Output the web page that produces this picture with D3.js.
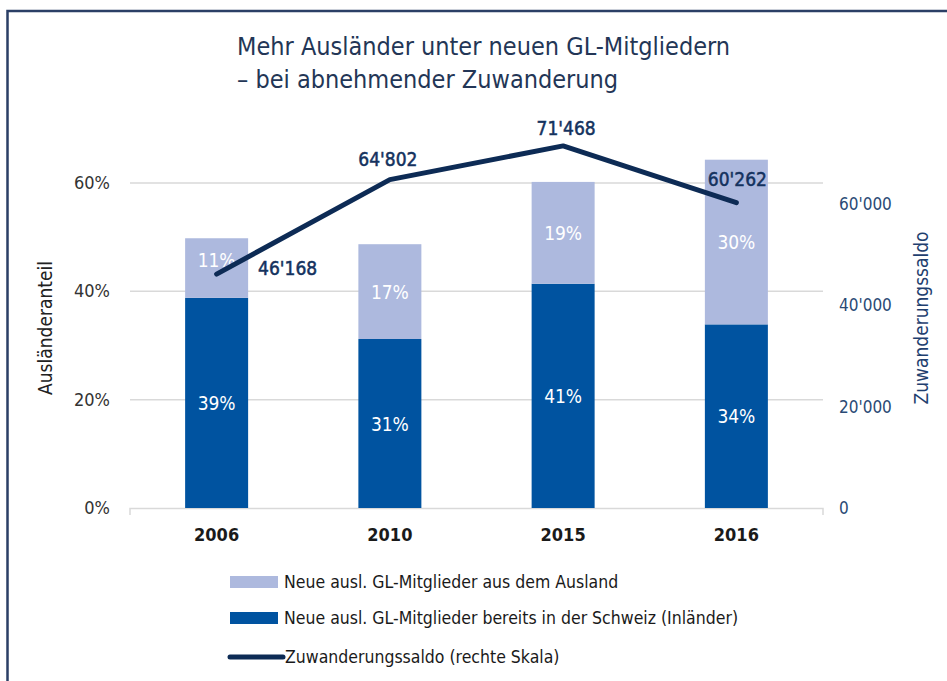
<!DOCTYPE html>
<html>
<head>
<meta charset="utf-8">
<script src="https://cdn.jsdelivr.net/npm/d3@7"></script>
<style>
  body { margin: 0; background: #fff; }
  text { font-family: "DejaVu Sans Condensed", "Liberation Sans Narrow", sans-serif; }
</style>
</head>
<body>
<div id="chart"></div>
<script>
const years = ["2006", "2010", "2015", "2016"];
const inlaender = [38.8, 31.2, 41.4, 33.9];
const ausland = [11.0, 17.5, 18.8, 30.4];
const inlaenderLabels = ["39%", "31%", "41%", "34%"];
const auslandLabels = ["11%", "17%", "19%", "30%"];
const saldo = [46168, 64802, 71468, 60262];
const saldoLabels = ["46'168", "64'802", "71'468", "60'262"];
const leftTicks = [0, 20, 40, 60];
const rightTicks = [0, 20000, 40000, 60000];
const legendItems = [
  "Neue ausl. GL-Mitglieder aus dem Ausland",
  "Neue ausl. GL-Mitglieder bereits in der Schweiz (Inländer)",
  "Zuwanderungssaldo (rechte Skala)"
];

function main(container) {
  const width = 947;
  const height = 681;
  const lightBlue = "#adb9de";
  const darkBlue = "#0053a0";
  const navy = "#0d2b55";

  const svg = d3.select(container).append("svg")
    .attr("width", width)
    .attr("height", height);

  // frame
  svg.append("rect")
    .attr("x", 7.5).attr("y", 11)
    .attr("width", width + 20).attr("height", height + 20)
    .attr("fill", "none")
    .attr("stroke", "#2b3f66")
    .attr("stroke-width", 2.5);

  // title
  const title = svg.append("text")
    .attr("x", 237).attr("y", 55)
    .attr("font-size", 25)
    .attr("fill", "#233656");
  title.append("tspan").attr("x", 237).text("Mehr Ausländer unter neuen GL-Mitgliedern");
  title.append("tspan").attr("x", 237).attr("dy", 33).text("– bei abnehmender Zuwanderung");

  const x = d3.scaleBand().domain(years).range([130, 823]);
  const y = d3.scaleLinear().domain([0, 60]).range([508, 183]);
  const y2 = d3.scaleLinear().domain([0, 60000]).range([508, 204]);
  const barW = 63;

  // gridlines
  svg.append("g")
    .selectAll("line")
    .data(leftTicks.filter(d => d > 0))
    .join("line")
    .attr("x1", 130).attr("x2", 823)
    .attr("y1", d => y(d)).attr("y2", d => y(d))
    .attr("stroke", "#d9d9d9")
    .attr("stroke-width", 1.5);

  // x axis line with end ticks
  svg.append("path")
    .attr("d", `M130,515V508.5H823V515`)
    .attr("fill", "none")
    .attr("stroke", "#d9d9d9")
    .attr("stroke-width", 1.5);

  // left ticks
  svg.append("g")
    .selectAll("text")
    .data(leftTicks)
    .join("text")
    .attr("x", 110).attr("y", d => y(d) + 6)
    .attr("text-anchor", "end")
    .attr("font-size", 18)
    .attr("fill", "#333")
    .text(d => d + "%");

  // right ticks
  svg.append("g")
    .selectAll("text")
    .data(rightTicks)
    .join("text")
    .attr("x", 839).attr("y", d => y2(d) + 6)
    .attr("font-size", 17)
    .attr("fill", "#2a4a75")
    .text(d => d3.format(",")(d).replace(/,/g, "'"));

  // axis titles
  svg.append("text")
    .attr("transform", "translate(52,328) rotate(-90)")
    .attr("text-anchor", "middle")
    .attr("font-size", 19)
    .attr("fill", "#222")
    .text("Ausländeranteil");
  svg.append("text")
    .attr("transform", "translate(928,318) rotate(-90)")
    .attr("text-anchor", "middle")
    .attr("font-size", 19)
    .attr("fill", "#1f3f6f")
    .text("Zuwanderungssaldo");

  // bars
  const bars = svg.append("g")
    .selectAll("g")
    .data(years.map((yr, i) => ({ yr, i })))
    .join("g");
  bars.append("rect")
    .attr("x", d => x(d.yr) + x.bandwidth() / 2 - barW / 2)
    .attr("width", barW)
    .attr("y", d => y(inlaender[d.i]))
    .attr("height", d => y(0) - y(inlaender[d.i]))
    .attr("fill", darkBlue);
  bars.append("rect")
    .attr("x", d => x(d.yr) + x.bandwidth() / 2 - barW / 2)
    .attr("width", barW)
    .attr("y", d => y(inlaender[d.i] + ausland[d.i]))
    .attr("height", d => y(inlaender[d.i]) - y(inlaender[d.i] + ausland[d.i]))
    .attr("fill", lightBlue);
  bars.append("text")
    .attr("x", d => x(d.yr) + x.bandwidth() / 2)
    .attr("y", d => (y(0) + y(inlaender[d.i])) / 2 + 7)
    .attr("text-anchor", "middle")
    .attr("font-size", 19)
    .attr("fill", "#fff")
    .text(d => inlaenderLabels[d.i]);
  bars.append("text")
    .attr("x", d => x(d.yr) + x.bandwidth() / 2)
    .attr("y", d => (y(inlaender[d.i]) + y(inlaender[d.i] + ausland[d.i])) / 2 + 7 - (d.i === 0 ? 8 : 0))
    .attr("text-anchor", "middle")
    .attr("font-size", 19)
    .attr("fill", "#fff")
    .text(d => auslandLabels[d.i]);

  // x labels
  svg.append("g")
    .selectAll("text")
    .data(years)
    .join("text")
    .attr("x", d => x(d) + x.bandwidth() / 2)
    .attr("y", 541)
    .attr("text-anchor", "middle")
    .attr("font-size", 18)
    .attr("font-weight", "bold")
    .attr("fill", "#1a1a1a")
    .text(d => d);

  // line
  const line = d3.line()
    .x((d, i) => x(years[i]) + x.bandwidth() / 2)
    .y(d => y2(d));
  svg.append("path")
    .datum(saldo)
    .attr("d", line)
    .attr("fill", "none")
    .attr("stroke", navy)
    .attr("stroke-width", 5)
    .attr("stroke-linecap", "round")
    .attr("stroke-linejoin", "round");

  const labelOffsets = [[71, 1], [-2, -14], [3, -11], [1, -17]];
  svg.append("g")
    .selectAll("text")
    .data(saldo)
    .join("text")
    .attr("x", (d, i) => x(years[i]) + x.bandwidth() / 2 + labelOffsets[i][0])
    .attr("y", (d, i) => y2(d) + labelOffsets[i][1])
    .attr("text-anchor", "middle")
    .attr("font-size", 19)
    .attr("fill", "#14325e")
    .attr("stroke", "#14325e")
    .attr("stroke-width", 0.5)
    .text((d, i) => saldoLabels[i]);

  // legend
  const legend = svg.append("g").attr("transform", "translate(230,0)");
  const legY = [582, 618, 657];
  legend.append("rect").attr("x", 0).attr("y", legY[0] - 6).attr("width", 48).attr("height", 12).attr("fill", lightBlue);
  legend.append("rect").attr("x", 0).attr("y", legY[1] - 6).attr("width", 48).attr("height", 12).attr("fill", darkBlue);
  legend.append("line").attr("x1", 0).attr("x2", 53).attr("y1", legY[2]).attr("y2", legY[2])
    .attr("stroke", navy).attr("stroke-width", 5).attr("stroke-linecap", "round");
  legend.selectAll("text.leg")
    .data(legendItems)
    .join("text")
    .attr("class", "leg")
    .attr("x", (d, i) => i === 2 ? 55 : 54)
    .attr("y", (d, i) => legY[i] + 6)
    .attr("font-size", 17.5)
    .attr("fill", "#1a1a1a")
    .text(d => d);
}

main(document.getElementById("chart"));
</script>
</body>
</html>
